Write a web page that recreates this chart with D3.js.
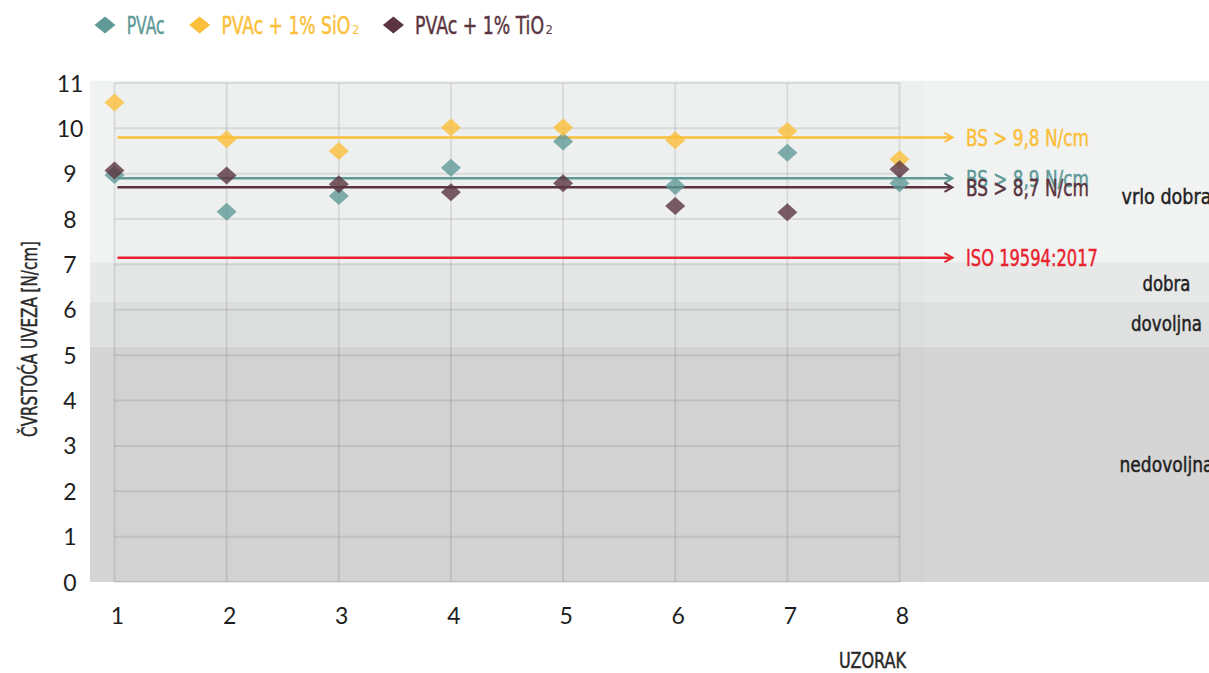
<!DOCTYPE html>
<html>
<head>
<meta charset="utf-8">
<script src="https://cdn.jsdelivr.net/npm/d3@7"></script>
<style>
  html, body { margin: 0; padding: 0; background: #fff; }
  svg { display: block; }
</style>
</head>
<body>
<svg id="chart" width="1209" height="673"></svg>
<script>
// Bond strength (N/cm) for eight samples of each adhesive
const samples = [1, 2, 3, 4, 5, 6, 7, 8];
const pvac     = [8.97, 8.16, 8.51, 9.13, 9.71, 8.73, 9.46, 8.79];
const pvacSiO2 = [10.57, 9.76, 9.50, 10.02, 10.02, 9.74, 9.94, 9.32];
const pvacTiO2 = [9.07, 8.96, 8.77, 8.59, 8.79, 8.29, 8.15, 9.10];

const seriesNames = ["PVAc", "PVAc + 1% SiO", "PVAc + 1% TiO"];
const seriesSubscripts = ["", "2", "2"];

// Mean bond strength per adhesive, and the ISO requirement
const meanValues = [8.9, 9.8, 8.7];
const meanLabels = ["BS > 8,9 N/cm", "BS > 9,8 N/cm", "BS > 8,7 N/cm"];
const isoValue = 7.15;
const isoLabel = "ISO 19594:2017";

// Quality classes
const bandNames   = ["vrlo dobra", "dobra", "dovoljna", "nedovoljna"];
const bandTops    = [11.05, 7.05, 6.18, 5.19];
const bandBottoms = [7.05, 6.18, 5.19, 0];
const bandLabelAt = [8.5, 6.6, 5.7, 2.6];

const yTicks = [0, 1, 2, 3, 4, 5, 6, 7, 8, 9, 10, 11];
const yTitle = "ČVRSTOĆA UVEZA [N/cm]";
const xTitle = "UZORAK";

const seriesColors = ["#5f9a97", "#fbbf3a", "#5a3540"];
const isoColor = "#e8232e";
const bandColors = ["#f1f2f2", "#e7e8e8", "#dfe0e0", "#d5d5d5"];

const condensed = "'Liberation Sans Narrow', 'DejaVu Sans Condensed', 'Roboto Condensed', sans-serif";
const numeric = "Lato, 'Noto Sans', sans-serif";

const svg = d3.select("#chart");
const W = 1209;

const x = d3.scaleLinear().domain([1, 8]).range([114.5, 899.5]);
const y = d3.scaleLinear().domain([0, 11]).range([582, 83]);

const series = [pvac, pvacSiO2, pvacTiO2];

// Condensed label: placed at (px, py), squeezed horizontally to width w,
// optionally rotated; drawn slightly heavier.
function label(parent, str, px, py, w, opts) {
  const o = Object.assign({ size: 22, color: "#222", anchor: "start", rotate: 0 }, opts || {});
  const g = parent.append("g");
  const t = g.append("text")
    .attr("font-family", condensed).attr("font-size", o.size)
    .attr("text-anchor", o.anchor)
    .attr("fill", o.color)
    .attr("stroke", o.color).attr("stroke-width", 0.45)
    .text(str);
  const natural = t.node().getComputedTextLength();
  const sx = w / natural;
  g.attr("transform", `translate(${px},${py}) rotate(${o.rotate}) scale(${sx},1)`);
  return g;
}

// ---- quality bands ----
const bands = bandNames.map((name, i) => ({
  name, top: bandTops[i], bottom: bandBottoms[i], at: bandLabelAt[i], color: bandColors[i]
}));

svg.append("g").selectAll("rect").data(bands).join("rect")
  .attr("x", 90)
  .attr("width", W - 90)
  .attr("y", d => y(d.top))
  .attr("height", d => y(d.bottom) - y(d.top))
  .attr("fill", d => d.color);

// faint shading over the plotting region
svg.append("rect")
  .attr("x", x(1)).attr("width", 925 - x(1))
  .attr("y", y(bandTops[0])).attr("height", y(0) - y(bandTops[0]))
  .attr("fill", "#000").attr("fill-opacity", 0.012);

// ---- grid ----
const grid = svg.append("g")
  .attr("stroke", "#000").attr("stroke-opacity", 0.085).attr("stroke-width", 2);
grid.selectAll("line.h").data(yTicks).join("line").attr("class", "h")
  .attr("x1", x(1)).attr("x2", x(8))
  .attr("y1", d => y(d)).attr("y2", d => y(d));
grid.selectAll("line.v").data(samples).join("line").attr("class", "v")
  .attr("x1", d => x(d)).attr("x2", d => x(d))
  .attr("y1", y(11)).attr("y2", y(0));

// ---- reference lines with arrowheads ----
const refs = [
  { v: meanValues[1], label: meanLabels[1], color: seriesColors[1] },
  { v: isoValue, label: isoLabel, color: isoColor },
  { v: meanValues[0], label: meanLabels[0], color: seriesColors[0] },
  { v: meanValues[2], label: meanLabels[2], color: seriesColors[2] }
];
const lineStart = x(1) + 3, lineEnd = x(8) + 53;

const refLayer = svg.append("g");
const refG = refLayer.selectAll("g").data(refs).join("g");
refG.append("line")
  .attr("x1", lineStart).attr("x2", lineEnd - 1)
  .attr("y1", d => y(d.v)).attr("y2", d => y(d.v))
  .attr("stroke", d => d.color).attr("stroke-width", 2.5);
refG.append("path")
  .attr("d", d => `M${lineEnd - 8},${y(d.v) - 4.5}L${lineEnd},${y(d.v)}L${lineEnd - 8},${y(d.v) + 4.5}`)
  .attr("fill", "none").attr("stroke", d => d.color).attr("stroke-width", 2);

// ---- data points ----
const diamond = (hw, hh) => `M0,${-hh}L${hw},0L0,${hh}L${-hw},0Z`;
const pointG = svg.append("g");
series.forEach((vals, si) => {
  pointG.append("g").selectAll("path").data(vals).join("path")
    .attr("transform", (v, i) => `translate(${x(samples[i])},${y(v)})`)
    .attr("d", diamond(10, 9))
    .attr("fill", seriesColors[si])
    .attr("fill-opacity", 0.8);
});

// reference line labels
const refLabels = svg.append("g");
refs.forEach(d => {
  label(refLabels, d.label, lineEnd + 13.5, y(d.v) + 8.5,
        d.label === isoLabel ? 132 : 123, { size: 23, color: d.color });
});

// ---- band labels ----
const bandTextWidths = { "vrlo dobra": 90, "dobra": 48, "dovoljna": 71, "nedovoljna": 94 };
const bandLabels = svg.append("g");
bands.forEach(d => {
  label(bandLabels, d.name, 1166.5, y(d.at) + 8, bandTextWidths[d.name],
        { size: 22, color: "#222", anchor: "middle" });
});

// ---- axes ----
svg.append("g").selectAll("text").data(yTicks).join("text")
  .attr("x", 70).attr("y", d => y(d) + 8.5)
  .attr("text-anchor", "middle")
  .attr("font-family", numeric).attr("font-size", 23)
  .attr("fill", "#1e1e1e")
  .text(d => d);

svg.append("g").selectAll("text").data(samples).join("text")
  .attr("x", d => x(d) + 3).attr("y", 623.5)
  .attr("text-anchor", "middle")
  .attr("font-family", numeric).attr("font-size", 23)
  .attr("fill", "#1e1e1e")
  .text(d => d);

label(svg, yTitle, 37, 339, 196, { size: 21, color: "#2a2a2a", anchor: "middle", rotate: -90 });
label(svg, xTitle, 839, 668, 67, { size: 21, color: "#2a2a2a" });

// ---- legend ----
const legendWidths = [38, 129, 129];
let cx = 105;
seriesNames.forEach((name, i) => {
  const g = svg.append("g");
  g.append("path")
    .attr("transform", `translate(${cx},25)`)
    .attr("d", diamond(10.5, 8.5))
    .attr("fill", seriesColors[i]);
  const tx = cx + 21.7;
  label(g, name, tx, 34.3, legendWidths[i], { size: 24, color: seriesColors[i] });
  let w = legendWidths[i];
  if (seriesSubscripts[i]) {
    g.append("text")
      .attr("x", tx + w + 1.5).attr("y", 34.3)
      .attr("font-family", condensed).attr("font-size", 13)
      .attr("fill", seriesColors[i])
      .text(seriesSubscripts[i]);
    w += 8;
  }
  cx = tx + w + 35;
});
</script>
</body>
</html>
